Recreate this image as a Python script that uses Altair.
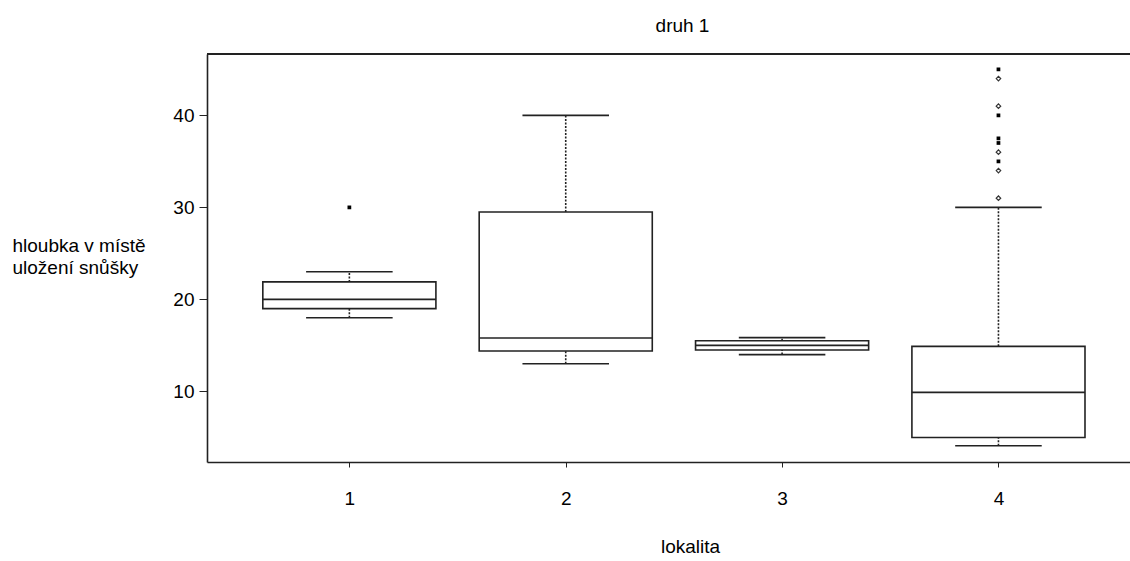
import altair as alt
import pandas as pd

# ---- data ----
lokalita = [1, 2, 3, 4]
whisker_low = [18, 13, 14, 4.1]
q1 = [19, 14.4, 14.5, 5]
median = [20, 15.8, 15, 9.9]
q3 = [21.9, 29.5, 15.5, 14.9]
whisker_high = [23, 40, 15.85, 30]

outlier_loc_filled = [1, 4, 4, 4, 4, 4]
outlier_val_filled = [30, 35, 37, 37.5, 40, 45]
outlier_loc_hollow = [4, 4, 4, 4, 4]
outlier_val_hollow = [31, 34, 36, 41, 44]

x_ticks = [1, 2, 3, 4]
y_ticks = [10, 20, 30, 40]

FONT = "Liberation Sans"
FS = 19
INK = "#222222"

stats = pd.DataFrame({
    "lokalita": lokalita, "lo": whisker_low, "q1": q1,
    "med": median, "q3": q3, "hi": whisker_high,
})
out_f = pd.DataFrame({"lokalita": outlier_loc_filled, "v": outlier_val_filled})
out_h = pd.DataFrame({"lokalita": outlier_loc_hollow, "v": outlier_val_hollow})

W, H = 923, 408

xs = alt.Scale(domain=[0.342, 4.608], nice=False, zero=False)
ys = alt.Scale(domain=[2.33, 46.67], nice=False, zero=False)

xaxis = alt.Axis(
    values=x_ticks, format="d", grid=False, title="lokalita",
    tickSize=5, tickColor=INK, labelPadding=22,
    labelFont=FONT, labelFontSize=FS, labelColor="black",
    domainColor=INK, domainWidth=1.6,
    titleFont=FONT, titleFontSize=FS, titleFontWeight="normal", titleColor="black",
    titleX=483, titleY=75, titleBaseline="top", titleAnchor="start", titleAlign="center",
)
yaxis = alt.Axis(
    values=y_ticks, grid=False, title=["hloubka v místě", "uložení snůšky"],
    tickSize=8, tickColor=INK, labelPadding=5,
    labelFont=FONT, labelFontSize=FS, labelColor="black",
    domainColor=INK, domainWidth=1.6,
    titleFont=FONT, titleFontSize=FS, titleFontWeight="normal", titleColor="black",
    titleAngle=0, titleAlign="left", titleBaseline="alphabetic",
    titleX=-195, titleY=197, titleLineHeight=22,
)

base = alt.Chart(stats).transform_calculate(
    bl="datum.lokalita - 0.4", br="datum.lokalita + 0.4",
    cl="datum.lokalita - 0.2", cr="datum.lokalita + 0.2",
)

boxes = base.mark_rect(fill="white", stroke=INK, strokeWidth=1.6).encode(
    x=alt.X("bl:Q", scale=xs, axis=xaxis), x2="br:Q",
    y=alt.Y("q1:Q", scale=ys, axis=yaxis), y2="q3:Q",
)
medians = base.mark_rule(color=INK, strokeWidth=1.6).encode(
    x=alt.X("bl:Q", scale=xs, axis=xaxis), x2="br:Q",
    y=alt.Y("med:Q", scale=ys, axis=yaxis),
)
cap_hi = base.mark_rule(color=INK, strokeWidth=1.6).encode(
    x=alt.X("cl:Q", scale=xs, axis=xaxis), x2="cr:Q",
    y=alt.Y("hi:Q", scale=ys, axis=yaxis),
)
cap_lo = base.mark_rule(color=INK, strokeWidth=1.6).encode(
    x=alt.X("cl:Q", scale=xs, axis=xaxis), x2="cr:Q",
    y=alt.Y("lo:Q", scale=ys, axis=yaxis),
)
wh_hi = base.mark_rule(color=INK, strokeWidth=1.6, strokeDash=[2, 1.5]).encode(
    x=alt.X("lokalita:Q", scale=xs, axis=xaxis),
    y=alt.Y("q3:Q", scale=ys, axis=yaxis), y2="hi:Q",
)
wh_lo = base.mark_rule(color=INK, strokeWidth=1.6, strokeDash=[2, 1.5]).encode(
    x=alt.X("lokalita:Q", scale=xs, axis=xaxis),
    y=alt.Y("lo:Q", scale=ys, axis=yaxis), y2="q1:Q",
)
pts_f = alt.Chart(out_f).mark_point(
    shape="square", filled=True, color="black", size=14, opacity=1
).encode(
    x=alt.X("lokalita:Q", scale=xs, axis=xaxis),
    y=alt.Y("v:Q", scale=ys, axis=yaxis),
)
pts_h = alt.Chart(out_h).mark_point(
    shape="diamond", filled=False, color="#333333", size=20, strokeWidth=1.2, opacity=1
).encode(
    x=alt.X("lokalita:Q", scale=xs, axis=xaxis),
    y=alt.Y("v:Q", scale=ys, axis=yaxis),
)
top_frame = alt.Chart(stats).mark_rule(color=INK, strokeWidth=1.6).encode(
    x=alt.value(0), x2=alt.value(W), y=alt.value(0)
)

chart = alt.layer(
    boxes, medians, wh_hi, wh_lo, cap_hi, cap_lo, pts_f, pts_h, top_frame
).properties(
    width=W, height=H,
    title=alt.TitleParams(
        "druh 1", anchor="middle", dx=14, offset=2, baseline="alphabetic",
        font=FONT, fontSize=FS, fontWeight="normal", color="black",
    ),
    padding={"left": 207, "top": 54, "right": 0, "bottom": 99},
    autosize="none",
    background="white",
).configure_view(stroke=None)

chart.save("out.html", embed_options={"renderer": "svg", "actions": False})
